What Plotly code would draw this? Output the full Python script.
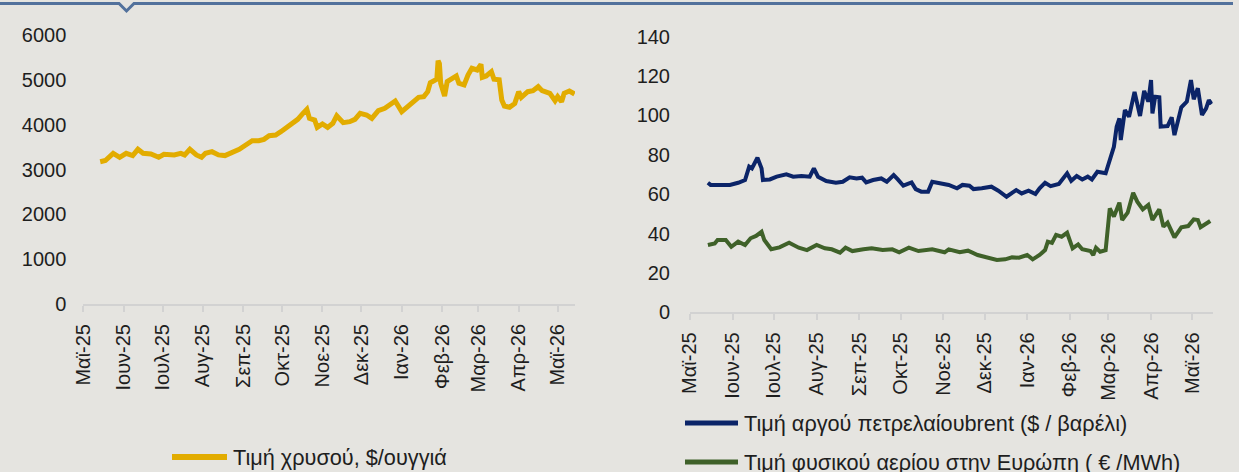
import plotly.graph_objs as go

# Month ticks shared by both panels
month_ticks = ['2025-05-01', '2025-06-01', '2025-07-01', '2025-08-01', '2025-09-01',
               '2025-10-01', '2025-11-01', '2025-12-01', '2026-01-01', '2026-02-01',
               '2026-03-01', '2026-04-01', '2026-05-01']
month_labels = ['Μαϊ-25', 'Ιουν-25', 'Ιουλ-25', 'Αυγ-25', 'Σεπ-25', 'Οκτ-25', 'Νοε-25',
                'Δεκ-25', 'Ιαν-26', 'Φεβ-26', 'Μαρ-26', 'Απρ-26', 'Μαϊ-26']

# Gold price, $/oz
gold_dates = ['2025-05-14', '2025-05-18', '2025-05-24', '2025-05-29', '2025-06-03', '2025-06-08',
              '2025-06-12', '2025-06-16', '2025-06-22', '2025-06-28', '2025-07-02', '2025-07-10',
              '2025-07-15', '2025-07-18', '2025-07-22', '2025-07-27', '2025-07-31', '2025-08-03',
              '2025-08-08', '2025-08-13', '2025-08-18', '2025-08-23', '2025-08-29', '2025-09-03',
              '2025-09-08', '2025-09-13', '2025-09-17', '2025-09-21', '2025-09-26', '2025-09-30',
              '2025-10-05', '2025-10-09', '2025-10-13', '2025-10-17', '2025-10-20', '2025-10-22',
              '2025-10-26', '2025-10-28', '2025-11-01', '2025-11-05', '2025-11-09', '2025-11-12',
              '2025-11-17', '2025-11-22', '2025-11-26', '2025-11-30', '2025-12-05', '2025-12-09',
              '2025-12-14', '2025-12-19', '2025-12-23', '2025-12-27', '2026-01-01', '2026-01-06',
              '2026-01-10', '2026-01-14', '2026-01-18', '2026-01-21', '2026-01-23', '2026-01-28',
              '2026-01-29', '2026-01-30', '2026-01-31', '2026-02-03', '2026-02-05', '2026-02-08',
              '2026-02-12', '2026-02-14', '2026-02-18', '2026-02-21', '2026-02-24', '2026-02-28',
              '2026-03-03', '2026-03-04', '2026-03-07', '2026-03-11', '2026-03-13', '2026-03-17',
              '2026-03-19', '2026-03-21', '2026-03-25', '2026-03-29', '2026-04-01', '2026-04-03',
              '2026-04-08', '2026-04-12', '2026-04-16', '2026-04-19', '2026-04-25', '2026-04-29',
              '2026-05-01', '2026-05-04', '2026-05-06', '2026-05-10', '2026-05-14']
gold_values = [3174, 3200, 3361, 3272, 3361, 3310, 3450, 3361, 3346, 3272, 3340, 3325,
               3361, 3325, 3450, 3325, 3272, 3361, 3398, 3325, 3310, 3361, 3450, 3547,
               3642, 3642, 3672, 3754, 3769, 3843, 3955, 4030, 4119, 4253, 4342, 4141,
               4104, 3940, 4015, 3940, 4030, 4200, 4045, 4067, 4119, 4253, 4216, 4141,
               4312, 4364, 4439, 4528, 4290, 4416, 4490, 4610, 4625, 4736, 4937, 5012,
               5427, 5360, 4922, 4640, 4960, 5012, 5086, 4922, 4885, 5108, 5257, 5220,
               5346, 5056, 5086, 5182, 5012, 5000, 4550, 4416, 4387, 4475, 4736, 4610,
               4736, 4758, 4847, 4758, 4699, 4535, 4625, 4513, 4699, 4750, 4684]

# Brent crude, $/barrel
brent_dates = ['2025-05-14', '2025-05-16', '2025-05-22', '2025-05-30', '2025-06-05', '2025-06-10',
               '2025-06-13', '2025-06-15', '2025-06-19', '2025-06-22', '2025-06-23', '2025-06-28',
               '2025-07-03', '2025-07-10', '2025-07-15', '2025-07-21', '2025-07-27', '2025-07-30',
               '2025-08-02', '2025-08-08', '2025-08-15', '2025-08-20', '2025-08-25', '2025-08-30',
               '2025-09-03', '2025-09-06', '2025-09-11', '2025-09-17', '2025-09-21', '2025-09-26',
               '2025-09-29', '2025-10-03', '2025-10-09', '2025-10-12', '2025-10-16', '2025-10-21',
               '2025-10-24', '2025-10-31', '2025-11-05', '2025-11-11', '2025-11-15', '2025-11-20',
               '2025-11-23', '2025-11-29', '2025-12-06', '2025-12-11', '2025-12-17', '2025-12-21',
               '2025-12-24', '2025-12-28', '2026-01-02', '2026-01-07', '2026-01-10', '2026-01-14',
               '2026-01-18', '2026-01-24', '2026-01-30', '2026-02-02', '2026-02-06', '2026-02-10',
               '2026-02-14', '2026-02-17', '2026-02-21', '2026-02-27', '2026-03-02', '2026-03-05',
               '2026-03-07', '2026-03-09', '2026-03-10', '2026-03-13', '2026-03-16', '2026-03-20',
               '2026-03-24', '2026-03-27', '2026-03-30', '2026-04-01', '2026-04-02', '2026-04-04',
               '2026-04-07', '2026-04-08', '2026-04-13', '2026-04-16', '2026-04-18', '2026-04-23',
               '2026-04-27', '2026-04-30', '2026-05-02', '2026-05-05', '2026-05-08', '2026-05-11',
               '2026-05-13', '2026-05-15']
brent_values = [65.8, 64.7, 64.7, 64.7, 65.8, 67.2, 74.0, 73.1, 78.5, 73.1, 67.2, 67.5,
                68.9, 70.1, 68.9, 69.2, 68.9, 73.1, 68.9, 66.7, 65.8, 66.3, 68.6, 68.0,
                68.4, 66.0, 67.2, 68.0, 66.3, 69.7, 67.5, 64.3, 66.0, 62.6, 61.3, 61.3,
                66.3, 65.2, 64.7, 63.0, 64.7, 64.3, 62.6, 63.0, 63.8, 61.8, 58.7, 60.7,
                62.1, 60.4, 61.8, 60.1, 63.0, 65.8, 64.1, 65.2, 70.6, 66.8, 69.2, 67.5,
                68.9, 67.5, 71.4, 70.6, 77.3, 84.1, 94.3, 98.5, 87.5, 102.7, 99.3, 112.0,
                99.7, 112.5, 107.0, 118.0, 101.0, 109.5, 109.2, 94.3, 94.6, 99.0, 90.0, 104.1,
                107.0, 118.0, 108.2, 113.8, 100.2, 103.6, 107.8, 105.8]

# European natural gas, EUR/MWh
gas_dates = ['2025-05-14', '2025-05-19', '2025-05-21', '2025-05-27', '2025-05-31', '2025-06-05',
             '2025-06-10', '2025-06-14', '2025-06-18', '2025-06-22', '2025-06-24', '2025-06-29',
             '2025-07-05', '2025-07-12', '2025-07-19', '2025-07-25', '2025-08-01', '2025-08-07',
             '2025-08-12', '2025-08-18', '2025-08-22', '2025-08-27', '2025-09-04', '2025-09-10',
             '2025-09-18', '2025-09-25', '2025-09-30', '2025-10-07', '2025-10-14', '2025-10-24',
             '2025-11-02', '2025-11-05', '2025-11-13', '2025-11-19', '2025-11-26', '2025-12-03',
             '2025-12-10', '2025-12-16', '2025-12-21', '2025-12-26', '2026-01-01', '2026-01-05',
             '2026-01-10', '2026-01-14', '2026-01-16', '2026-01-19', '2026-01-22', '2026-01-26',
             '2026-01-30', '2026-02-03', '2026-02-07', '2026-02-10', '2026-02-16', '2026-02-18',
             '2026-02-20', '2026-02-23', '2026-02-27', '2026-03-02', '2026-03-05', '2026-03-09',
             '2026-03-11', '2026-03-15', '2026-03-19', '2026-03-22', '2026-03-26', '2026-03-30',
             '2026-04-02', '2026-04-07', '2026-04-10', '2026-04-13', '2026-04-18', '2026-04-23',
             '2026-04-28', '2026-05-02', '2026-05-05', '2026-05-07', '2026-05-11', '2026-05-14']
gas_values = [34.2, 35.0, 36.7, 36.7, 33.3, 35.9, 34.2, 37.6, 38.8, 40.9, 36.7, 32.0,
              33.0, 35.3, 32.8, 31.6, 34.2, 32.5, 32.0, 30.3, 32.8, 31.1, 32.0, 32.5,
              31.6, 32.0, 30.5, 32.8, 31.1, 32.0, 30.5, 32.0, 30.5, 31.3, 29.1, 27.7,
              26.6, 26.9, 27.9, 27.7, 29.1, 26.9, 29.1, 31.6, 35.9, 35.3, 39.3, 38.4,
              40.4, 32.5, 34.5, 32.0, 31.1, 29.1, 32.8, 30.8, 31.6, 52.8, 48.6, 55.7,
              46.9, 50.6, 60.7, 56.2, 52.3, 54.5, 46.9, 52.3, 43.5, 45.5, 38.1, 43.2,
              43.8, 47.2, 46.9, 43.2, 45.2, 46.4]

legend_labels = ['Τιμή χρυσού, $/ουγγιά',
                 'Τιμή αργού πετρελαίουbrent ($ / βαρέλι)',
                 'Τιμή φυσικού αερίου στην Ευρώπη ( € /MWh)']

GOLD = '#E2AC00'
NAVY = '#0B2468'
GREEN = '#3F6129'
BG = '#E5E4E0'
AXIS = '#D2D2D2'
TEXT = '#1E1E1E'
FONT = 'Liberation Sans, Arial, sans-serif'
W, H = 1239, 472


def px(x):
    return x / W


def py(y):
    return 1 - y / H


fig = go.Figure()
fig.add_trace(go.Scatter(x=gold_dates, y=gold_values, mode='lines', name=legend_labels[0],
                         line=dict(color=GOLD, width=5), xaxis='x', yaxis='y'))
fig.add_trace(go.Scatter(x=brent_dates, y=brent_values, mode='lines', name=legend_labels[1],
                         line=dict(color=NAVY, width=4), xaxis='x2', yaxis='y2'))
fig.add_trace(go.Scatter(x=gas_dates, y=gas_values, mode='lines', name=legend_labels[2],
                         line=dict(color=GREEN, width=4), xaxis='x2', yaxis='y2'))

xcommon = dict(type='date', tickvals=month_ticks, ticktext=month_labels, tickangle=-90,
               showline=True, linecolor=AXIS, linewidth=2, ticks='outside', ticklen=6,
               tickcolor=AXIS, tickwidth=2, showgrid=False, zeroline=False,
               ticklabelstandoff=4, tickfont=dict(size=20, color=TEXT))
ycommon = dict(showgrid=False, zeroline=False, showline=False, ticks='',
               tickfont=dict(size=20, color=TEXT))

fig.update_layout(
    width=W, height=H,
    margin=dict(l=0, r=0, t=0, b=0, autoexpand=False),
    paper_bgcolor=BG, plot_bgcolor=BG,
    font=dict(family=FONT, color=TEXT),
    showlegend=False,
    xaxis=dict(xcommon, domain=[px(83.3), px(575)], anchor='y', automargin=False,
               range=['2025-05-01', '2026-05-14 08:00']),
    yaxis=dict(ycommon, domain=[py(304), py(35)], anchor='x', automargin=False,
               range=[0, 6000], dtick=1000, ticklabelstandoff=16),
    xaxis2=dict(xcommon, domain=[px(690), px(1212.7)], anchor='y2', automargin=False,
                range=['2025-05-01', '2026-05-15 19:00']),
    yaxis2=dict(ycommon, domain=[py(312.3), py(36.7)], anchor='x2', automargin=False,
                range=[0, 140], dtick=20, ticklabelstandoff=19),
)

# top border with the small notch
fig.add_shape(type='path', xref='paper', yref='paper',
              path=f'M 0,{py(3.5)} L {px(119)},{py(3.5)} L {px(126.5)},{py(11)} '
                   f'L {px(134)},{py(3.5)} L {px(1233)},{py(3.5)}',
              line=dict(color='#52719C', width=3))

# hand-drawn legends to match the long line samples
legend_items = [(172, 227, 457, GOLD, 6, legend_labels[0]),
                (685, 738, 423, NAVY, 5, legend_labels[1]),
                (685, 738, 462, GREEN, 5, legend_labels[2])]
for x0, x1, y, color, lw, label in legend_items:
    fig.add_shape(type='line', xref='paper', yref='paper',
                  x0=px(x0), x1=px(x1), y0=py(y), y1=py(y),
                  line=dict(color=color, width=lw))
    fig.add_annotation(x=px(x1 + 4), y=py(y), xref='paper', yref='paper',
                       text=label, showarrow=False, xanchor='left', yanchor='middle',
                       font=dict(size=21.7, color=TEXT))

fig.write_html('out.html', config={'displayModeBar': False},
               post_script="document.body.style.margin='0';")
